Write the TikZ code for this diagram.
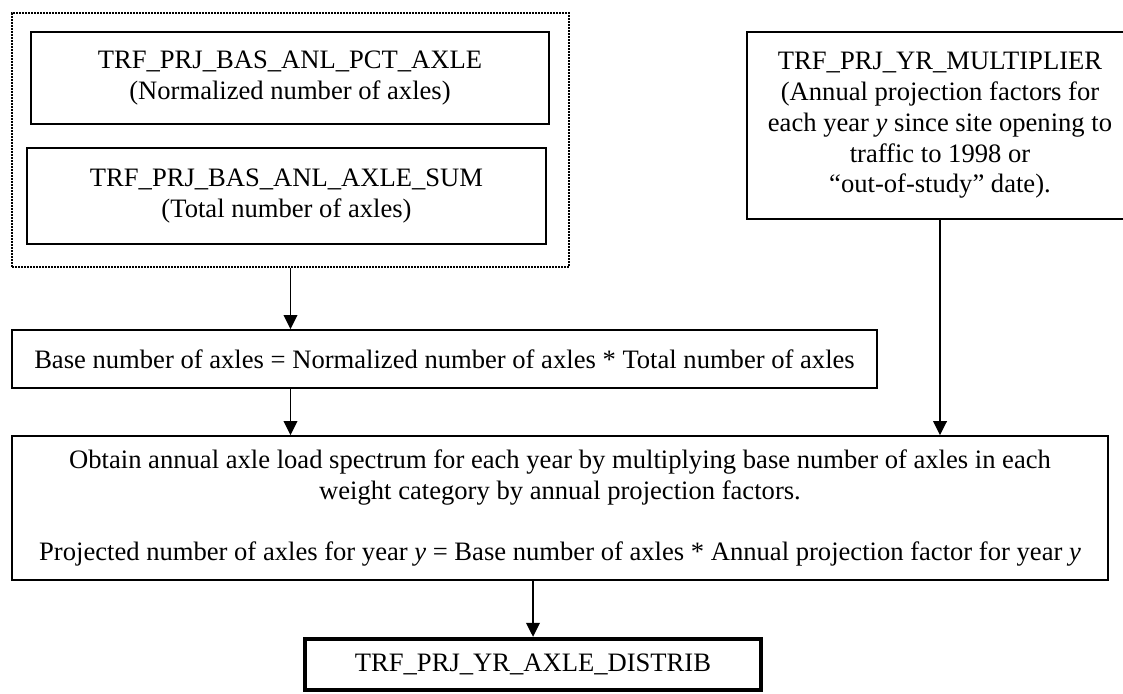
\documentclass[tikz,border=0pt]{standalone}
\usepackage{fontspec}
\setmainfont{Liberation Serif}
\usetikzlibrary{arrows.meta}
\tikzset{
  box/.style={draw, line width=0.8pt, inner sep=0pt, align=center, font=\fontsize{13.3}{15.4}\selectfont},
  dotbox/.style={draw, line width=0.9pt, dash pattern=on 0.8pt off 0.7pt, inner sep=0pt},
  thickbox/.style={box, line width=2.2pt},
  arr/.style={line width=0.8pt, -{Triangle[length=7pt,width=6.8pt]}}
}
\begin{document}
\begin{tikzpicture}[x=0.5pt,y=-0.5pt]
\useasboundingbox (0,0) rectangle (1123,694);
\node[dotbox, minimum width=278.5pt, minimum height=127pt] (grp) at (290.5,140) {};
\node[box, minimum width=259pt, minimum height=46pt] (pct) at (290,78)
  {TRF\_PRJ\_BAS\_ANL\_PCT\_AXLE\\(Normalized number of axles)};
\node[box, minimum width=259.5pt, minimum height=48pt] (sum) at (286.5,196)
  {TRF\_PRJ\_BAS\_ANL\_AXLE\_SUM\\(Total number of axles)};
\node[box, minimum width=193pt, minimum height=93.5pt] (mult) at (940,125.5)
  {TRF\_PRJ\_YR\_MULTIPLIER\\(Annual projection factors for\\each year \textit{y} since site opening to\\traffic to 1998 or\\“out-of-study” date).};
\node[box, minimum width=432.5pt, minimum height=29pt] (base) at (444.5,359)
  {Base number of axles = Normalized number of axles * Total number of axles};
\node[box, minimum width=548pt, minimum height=72pt] (spec) at (560,508)
  {Obtain annual axle load spectrum for each year by multiplying base number of axles in each\\weight category by annual projection factors.\\[15.4pt]Projected number of axles for year \textit{y} = Base number of axles * Annual projection factor for year \textit{y}};
\node[thickbox, minimum width=228pt, minimum height=25.5pt] (dist) at (533,664.5)
  {TRF\_PRJ\_YR\_AXLE\_DISTRIB};
\draw[arr] (grp.south) -- (grp.south |- base.north);
\draw[arr] (grp.south |- base.south) -- (grp.south |- spec.north);
\draw[arr] (mult.south) -- (mult.south |- spec.north);
\draw[arr] (dist.north |- spec.south) -- (dist.north);
\end{tikzpicture}
\end{document}
